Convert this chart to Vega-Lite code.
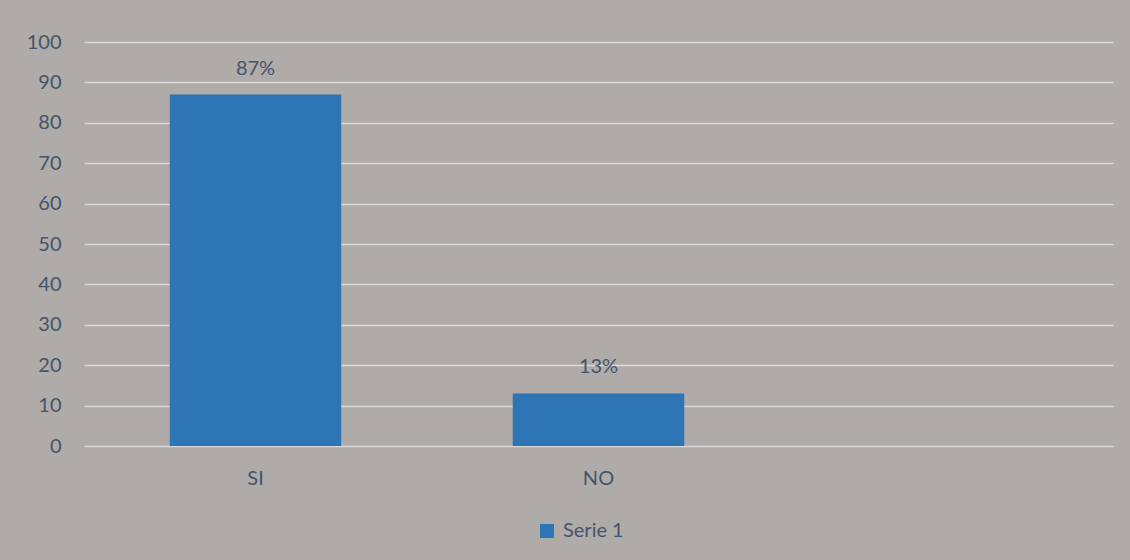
{
  "$schema": "https://vega.github.io/schema/vega-lite/v6.json",
  "autosize": {"type": "none"},
  "padding": {"left": 84, "top": 42, "right": 17, "bottom": 114},
  "width": 1029,
  "height": 404,
  "background": "#AFABA9",
  "config": {
    "view": {"stroke": null},
    "font": "Lato",
    "axis": {"labelFont": "Lato", "labelFontSize": 20, "labelColor": "#44546A"},
    "legend": {"labelFont": "Lato", "labelFontSize": 20, "labelColor": "#44546A"}
  },
  "data": {
    "values": [
      {"cat": "SI", "value": 87, "label": "87%", "series": "Serie 1"},
      {"cat": "NO", "value": 13, "label": "13%", "series": "Serie 1"}
    ]
  },
  "encoding": {
    "x": {
      "field": "cat", "type": "nominal", "sort": null,
      "scale": {"domain": ["SI", "NO", " "], "paddingInner": 0.5, "paddingOuter": 0.25},
      "axis": {"title": null, "labelAngle": 0, "ticks": false, "domain": false, "labelPadding": 22}
    },
    "y": {
      "field": "value", "type": "quantitative",
      "scale": {"domain": [0, 100], "nice": false},
      "axis": {"title": null, "values": [0,10,20,30,40,50,60,70,80,90,100], "ticks": false, "domain": false, "labelPadding": 23, "gridColor": "#D9D9D9", "gridWidth": 1.5, "gridOpacity": 1}
    }
  },
  "layer": [
    {
      "mark": {"type": "bar"},
      "encoding": {
        "color": {
          "field": "series", "type": "nominal",
          "scale": {"range": ["#2E75B6"]},
          "legend": {"title": null, "orient": "none", "legendX": 453, "legendY": 479, "symbolType": "square", "symbolSize": 196, "symbolStrokeWidth": 0, "labelOffset": 6}
        }
      }
    },
    {
      "mark": {"type": "text", "dy": -26, "fontSize": 20, "color": "#44546A", "font": "Lato"},
      "encoding": {"text": {"field": "label"}}
    }
  ]
}
